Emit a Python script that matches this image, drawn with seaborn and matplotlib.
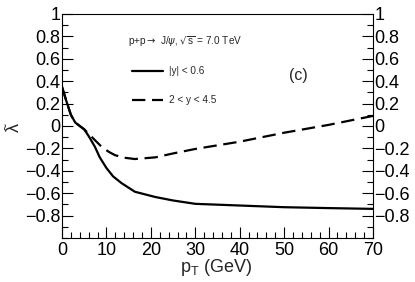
import numpy as np
import pandas as pd
import matplotlib
matplotlib.use("Agg")
import matplotlib.pyplot as plt
import seaborn as sns
from matplotlib.ticker import MultipleLocator

# Valores
pt_central = [0, 1, 2, 3, 4, 5, 6, 7.4, 8.5, 10, 11.5, 13.4, 16.4, 21, 25, 30, 40, 50, 60, 70]
lam_central = [0.35, 0.22, 0.1, 0.03, 0.0, -0.03, -0.09, -0.185, -0.28, -0.375, -0.45, -0.51, -0.587, -0.634, -0.665, -0.695, -0.71, -0.725, -0.733, -0.74]

pt_forward = [0, 1, 2, 3, 4, 5, 5.9, 7.5, 8.9, 10.5, 11.9, 14, 16.4, 21, 25, 30, 40, 50, 60, 70]
lam_forward = [0.35, 0.22, 0.1, 0.03, 0.0, -0.03, -0.065, -0.13, -0.185, -0.23, -0.26, -0.283, -0.295, -0.28, -0.245, -0.205, -0.14, -0.06, 0.01, 0.09]

df = pd.concat([
    pd.DataFrame({"pT": pt_central, "lam": lam_central, "serie": "|y| < 0.6"}),
    pd.DataFrame({"pT": pt_forward, "lam": lam_forward, "serie": "2 < y < 4.5"}),
])

sns.set_style("ticks")
plt.rcParams["font.family"] = ["Liberation Sans", "DejaVu Sans"]
plt.rcParams["axes.unicode_minus"] = True

fig = plt.figure(figsize=(4.15, 2.82), dpi=100)
ax = fig.add_axes([62 / 415, 1 - 238 / 282, (373 - 62) / 415, (238 - 14) / 282])

sns.lineplot(data=df, x="pT", y="lam", style="serie", color="black", linewidth=1.6,
             dashes={"|y| < 0.6": "", "2 < y < 4.5": (6, 3)}, legend=False, ax=ax)

ax.set_xlim(0, 70)
ax.set_ylim(-1, 1)
ax.xaxis.set_minor_locator(MultipleLocator(2))
ax.yaxis.set_minor_locator(MultipleLocator(0.1))

ax.set_xticks([0, 10, 20, 30, 40, 50, 60, 70])
ax.set_yticks([-0.8, -0.6, -0.4, -0.2, 0, 0.2, 0.4, 0.6, 0.8, 1])
ax.set_yticklabels(["\u22120.8", "\u22120.6", "\u22120.4", "\u22120.2", "0", "0.2", "0.4", "0.6", "0.8", "1"])

ax.tick_params(axis="both", which="both", direction="in", labelsize=13, width=0.8, colors="black")
ax.tick_params(axis="y", which="both", left=True, right=True, labelleft=True, labelright=True, pad=1)
ax.tick_params(axis="x", which="both", top=False, pad=3)
ax.tick_params(which="major", length=8)
ax.tick_params(which="minor", length=4)
for s in ax.spines.values():
    s.set_linewidth(0.8)
    s.set_color("black")

ax.set_xlabel("")
ax.set_ylabel("")
fig.text(216 / 415, 1 - 268 / 282, r"p$_\mathregular{T}$ (GeV)", fontsize=13, ha="center", va="center")
# lambda com til (rotacionado, estilo ROOT)
fig.text(14 / 415, 1 - 127 / 282, "\u03bb", fontsize=13, ha="center", va="center", rotation=90)
fig.text(7 / 415, 1 - 126 / 282, "~", fontsize=9, ha="center", va="center", rotation=90)

# Anotacoes e legenda manual
ax.text(14.9, 0.75, r"p+p$\rightarrow$ J/$\psi$, $\sqrt{\mathregular{s}}$ = 7.0 TeV", fontsize=7.2, va="center")
ax.plot([15.7, 22.7], [0.49, 0.49], color="black", linewidth=1.6)
ax.text(24.0, 0.49, "|y| < 0.6", fontsize=7.2, va="center")
ax.plot([15.7, 22.7], [0.23, 0.23], color="black", linewidth=1.6, dashes=(6, 3))
ax.text(24.0, 0.23, "2 < y < 4.5", fontsize=7.2, va="center")
ax.text(51, 0.455, "(c)", fontsize=11.5, va="center")

fig.savefig("out.png", dpi=100)
